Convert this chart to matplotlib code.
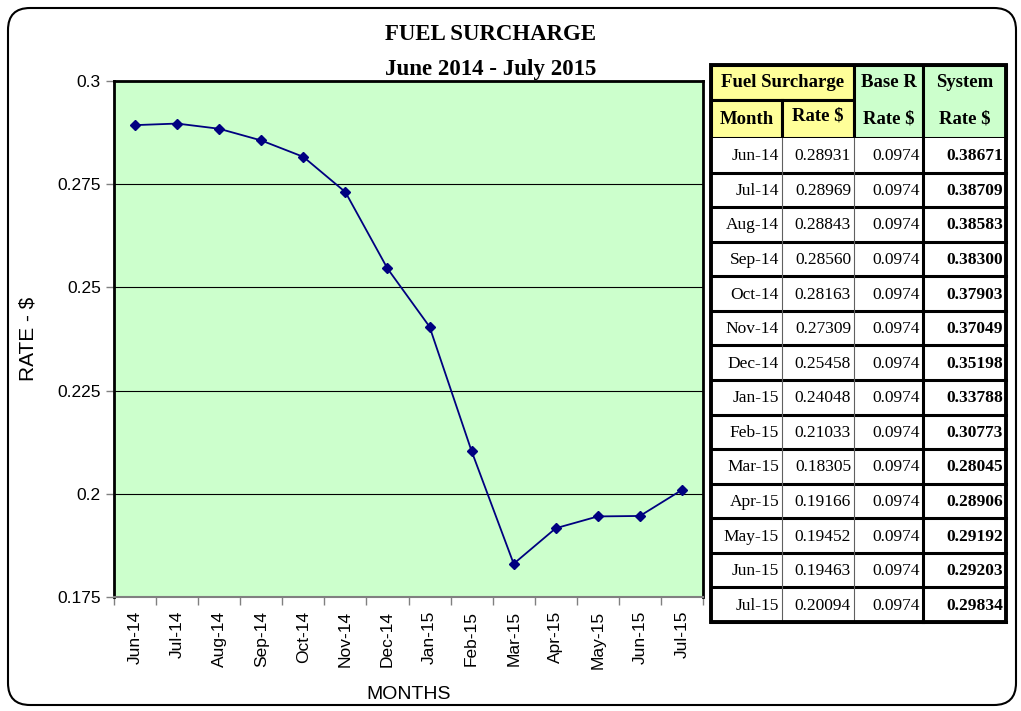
import matplotlib.pyplot as plt
from matplotlib.patches import Rectangle, FancyBboxPatch

months = ["Jun-14", "Jul-14", "Aug-14", "Sep-14", "Oct-14", "Nov-14", "Dec-14",
          "Jan-15", "Feb-15", "Mar-15", "Apr-15", "May-15", "Jun-15", "Jul-15"]
fuel_rate = [0.28931, 0.28969, 0.28843, 0.28560, 0.28163, 0.27309, 0.25458,
             0.24048, 0.21033, 0.18305, 0.19166, 0.19452, 0.19463, 0.20094]
base_rate = [0.0974] * 14
system_rate = [0.38671, 0.38709, 0.38583, 0.38300, 0.37903, 0.37049, 0.35198,
               0.33788, 0.30773, 0.28045, 0.28906, 0.29192, 0.29203, 0.29834]
y_ticks = [0.175, 0.2, 0.225, 0.25, 0.275, 0.3]

W, H = 1021, 711
fig = plt.figure(figsize=(W / 100, H / 100), dpi=100)

# overlay in pixel coordinates for the frame and table
ov = fig.add_axes([0, 0, 1, 1], zorder=0)
ov.set_xlim(0, W)
ov.set_ylim(H, 0)
ov.axis("off")

ov.add_patch(FancyBboxPatch((8, 8), 1008, 697, boxstyle="round,pad=0,rounding_size=22",
                            fc="white", ec="black", lw=1.5))

# chart
ax = fig.add_axes([114 / W, 1 - 597 / H, 589 / W, 516 / H], zorder=1)
ax.set_facecolor("#CCFFCC")
x = list(range(len(months)))
ax.plot(x, fuel_rate, color="#000080", lw=1.3, marker="D", ms=5, zorder=3)
ax.set_xlim(-0.5, len(months) - 0.5)
ax.set_ylim(0.175, 0.3)
ax.set_yticks(y_ticks)
ax.set_yticklabels([f"{v:g}" for v in y_ticks], fontsize=12.5, family="Liberation Sans")
ax.yaxis.grid(True, color="black", lw=0.8)
ax.set_axisbelow(True)
ax.set_xticks(x)
ax.set_xticklabels(months, rotation=90, fontsize=12.5, family="Liberation Sans")
ax.tick_params(axis="x", length=0, pad=10)
ax.set_xticks([i - 0.5 for i in range(len(months) + 1)], minor=True)
ax.tick_params(axis="x", which="minor", length=6, color="#808080", width=1)
ax.tick_params(axis="y", length=6, color="#808080", width=1)
for s in ["left", "top", "right"]:
    ax.spines[s].set_color("black")
    ax.spines[s].set_linewidth(2)
ax.spines["bottom"].set_color("#808080")
ax.spines["bottom"].set_linewidth(1.5)
ax.set_ylabel("RATE - $", fontsize=15, family="Liberation Sans", labelpad=14)
ax.set_xlabel("MONTHS", fontsize=14, family="Liberation Sans", labelpad=12)

fig.text(491 / W, 1 - 34 / H, "FUEL SURCHARGE", ha="center", va="center",
         fontsize=16.5, fontweight="bold", family="Liberation Serif")
fig.text(491 / W, 1 - 69 / H, "June 2014 - July 2015", ha="center", va="center",
         fontsize=16.5, fontweight="bold", family="Liberation Serif")

# table
cols = [711, 782, 854, 923, 1006]
r0, r1, r2 = 65, 100, 138
rh = (622 - r2) / len(months)
yellow, green = "#FFFF99", "#CCFFCC"
tk = 2.2
tf = dict(family="Liberation Serif", fontsize=12.5)
hf = dict(family="Liberation Serif", fontsize=13.5, fontweight="bold")


def cell(x0, y0, x1, y1, fc, lw=tk):
    ov.add_patch(Rectangle((x0, y0), x1 - x0, y1 - y0, fc=fc, ec="black", lw=lw, zorder=2))


cell(cols[0], r0, cols[2], r1, yellow)
cell(cols[0], r1, cols[1], r2, yellow)
cell(cols[1], r1, cols[2], r2, yellow)
cell(cols[2], r0, cols[3], r2, green)
cell(cols[3], r0, cols[4], r2, green)
ov.text((cols[0] + cols[2]) / 2, (r0 + r1) / 2, "Fuel Surcharge", ha="center", va="center",
        zorder=3, **hf)
ov.text((cols[0] + cols[1]) / 2, (r1 + r2) / 2, "Month", ha="center", va="center",
        zorder=3, **hf)
ov.text((cols[1] + cols[2]) / 2, (r1 + r2) / 2 - 3, "Rate $", ha="center", va="center",
        zorder=3, **hf)
for c, (a, b) in zip([2, 3], [("Base R", "Rate $"), ("System", "Rate $")]):
    cx = (cols[c] + cols[c + 1]) / 2
    ov.text(cx, (r0 + r1) / 2, a, ha="center", va="center", zorder=3, **hf)
    ov.text(cx, (r1 + r2) / 2, b, ha="center", va="center", zorder=3, **hf)

for i, m in enumerate(months):
    y0 = r2 + i * rh
    ov.add_patch(Rectangle((cols[0], y0), cols[4] - cols[0], rh, fc="white", ec="none", zorder=2))
    ov.plot([cols[0], cols[4]], [y0 + rh, y0 + rh], color="black", lw=tk, zorder=3)
    yc = y0 + rh / 2 + 1
    vals = [m, f"{fuel_rate[i]:.5f}", f"{base_rate[i]:.4f}", f"{system_rate[i]:.5f}"]
    for c, v in enumerate(vals):
        ov.text(cols[c + 1] - 3, yc, v, ha="right", va="center", zorder=4,
                fontweight="bold" if c == 3 else "normal", **tf)
for c, lw, col in [(1, 0.8, "#606060"), (2, 0.8, "#606060"), (3, tk, "black")]:
    ov.plot([cols[c], cols[c]], [r2, 622], color=col, lw=lw, zorder=3)
ov.add_patch(Rectangle((cols[0], r0), cols[4] - cols[0], 622 - r0, fc="none", ec="black",
                       lw=tk + 0.6, zorder=5))

fig.savefig("out.png", dpi=100)
